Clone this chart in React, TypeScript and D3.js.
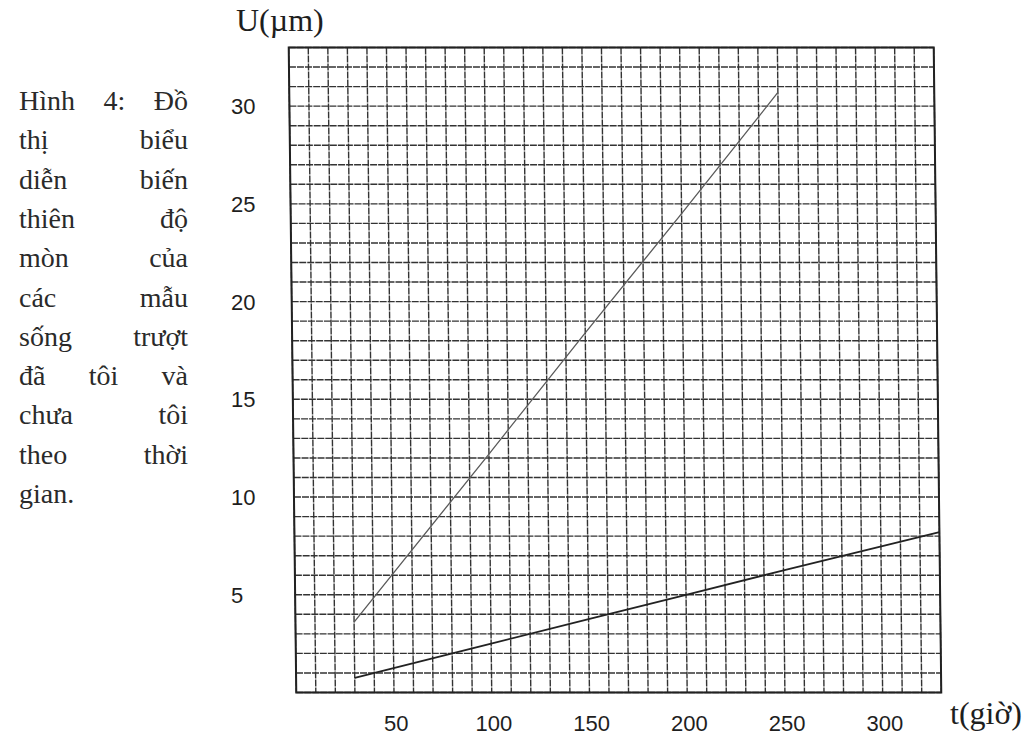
import React, { useMemo } from "react";
import * as d3 from "d3";

// ---- data ----
const hourTicks = [50, 100, 150, 200, 250, 300];
const wearTicks = [5, 10, 15, 20, 25, 30];

// upper line: samples not hardened ("chưa tôi")
const unhardenedT = [30, 100, 150, 200, 250];
const unhardenedU = [3.6, 12.2, 18.4, 24.5, 30.7];

// lower line: hardened samples ("đã tôi")
const hardenedT = [30, 100, 150, 200, 250, 330];
const hardenedU = [0.75, 2.5, 3.75, 5.0, 6.25, 8.2];

const captionLines = [
  ["Hình", "4:", "Đồ"],
  ["thị", "biểu"],
  ["diễn", "biến"],
  ["thiên", "độ"],
  ["mòn", "của"],
  ["các", "mẫu"],
  ["sống", "trượt"],
  ["đã", "tôi", "và"],
  ["chưa", "tôi"],
  ["theo", "thời"],
  ["gian."],
];

const T_MAX = 330;
const U_MAX = 33;

const W = 1030;
const H = 736;
const left = 292.5;
const right = 937.5;
const top = 47.5;
const bottom = 692.5;
const skewDeg = 0.67;

const serif = "'Liberation Serif', 'Times New Roman', serif";
const sans = "'Liberation Sans', Arial, sans-serif";

export default function App() {
  const x = d3.scaleLinear().domain([0, T_MAX]).range([left, right]);
  const y = d3.scaleLinear().domain([0, U_MAX]).range([bottom, top]);

  const line = d3
    .line<[number, number]>()
    .x((d) => x(d[0]))
    .y((d) => y(d[1]));

  const upper: [number, number][] = unhardenedT.map((t, i) => [t, unhardenedU[i]]);
  const lower: [number, number][] = hardenedT.map((t, i) => [t, hardenedU[i]]);

  const vLines = d3.range(0, T_MAX + 1, 10);
  const hLines = d3.range(0, U_MAX + 1, 1);

  const capFont = 28;
  const capLeft = 19;
  const capRight = 188;
  const capTop = 110;
  const capStep = 39.3;

  const measured = useMemo(() => {
    const c = document.createElement("canvas").getContext("2d");
    if (c) c.font = `${capFont}px ${serif}`;
    return captionLines.map((words) =>
      words.map((w) => (c ? c.measureText(w).width : w.length * capFont * 0.5))
    );
  }, []);

  const tan = Math.tan((skewDeg * Math.PI) / 180);
  const midY = (top + bottom) / 2;
  const plotTransform = `translate(${-midY * tan},0) skewX(${skewDeg})`;

  return (
    <svg
      width={W}
      height={H}
      style={{ position: "absolute", left: 0, top: 0, background: "#fff" }}
      xmlns="http://www.w3.org/2000/svg"
    >
      <rect x={0} y={0} width={W} height={H} fill="#fff" />

      {/* caption */}
      <g fill="#2a2a2a" fontFamily={serif} fontSize={capFont}>
        {captionLines.map((words, li) => {
          const yy = capTop + li * capStep;
          const widths = measured[li];
          if (li === captionLines.length - 1 || words.length === 1) {
            return (
              <text key={li} x={capLeft} y={yy}>
                {words.join(" ")}
              </text>
            );
          }
          const total = widths.reduce((a, b) => a + b, 0);
          const gap = (capRight - capLeft - total) / (words.length - 1);
          let cx = capLeft;
          return (
            <g key={li}>
              {words.map((w, wi) => {
                const el = (
                  <text key={wi} x={cx} y={yy}>
                    {w}
                  </text>
                );
                cx += widths[wi] + gap;
                return el;
              })}
            </g>
          );
        })}
      </g>

      {/* plot with slight shear like the scan */}
      <g transform={plotTransform}>
        <g stroke="#333" strokeWidth={1.4} strokeDasharray="7 1" fill="none">
          {vLines.map((t) => (
            <line key={"v" + t} x1={x(t)} x2={x(t)} y1={top} y2={bottom} />
          ))}
          {hLines.map((u) => (
            <line key={"h" + u} x1={left} x2={right} y1={y(u)} y2={y(u)} />
          ))}
        </g>
        <rect
          x={left}
          y={top}
          width={right - left}
          height={bottom - top}
          fill="none"
          stroke="#222"
          strokeWidth={2}
        />
        <path d={line(upper) || ""} fill="none" stroke="#5a5a5a" strokeWidth={1.3} />
        <path d={line(lower) || ""} fill="none" stroke="#222" strokeWidth={1.8} />
      </g>

      {/* y tick labels */}
      <g fill="#1e1e1e" fontFamily={sans} fontSize={22}>
        {wearTicks.map((u) => (
          <text key={u} x={231} y={y(u)} dy="0.36em">
            {u}
          </text>
        ))}
      </g>

      {/* x tick labels */}
      <g fill="#1e1e1e" fontFamily={sans} fontSize={22} textAnchor="middle">
        {hourTicks.map((t) => (
          <text key={t} x={x(t) + 6} y={723} dy="0.36em">
            {t}
          </text>
        ))}
      </g>

      {/* axis titles */}
      <text x={236} y={31} fontFamily={serif} fontSize={32} fill="#1e1e1e">
        U(µm)
      </text>
      <text x={950} y={724} fontFamily={serif} fontSize={32} fill="#1e1e1e">
        t(giờ)
      </text>
    </svg>
  );
}
